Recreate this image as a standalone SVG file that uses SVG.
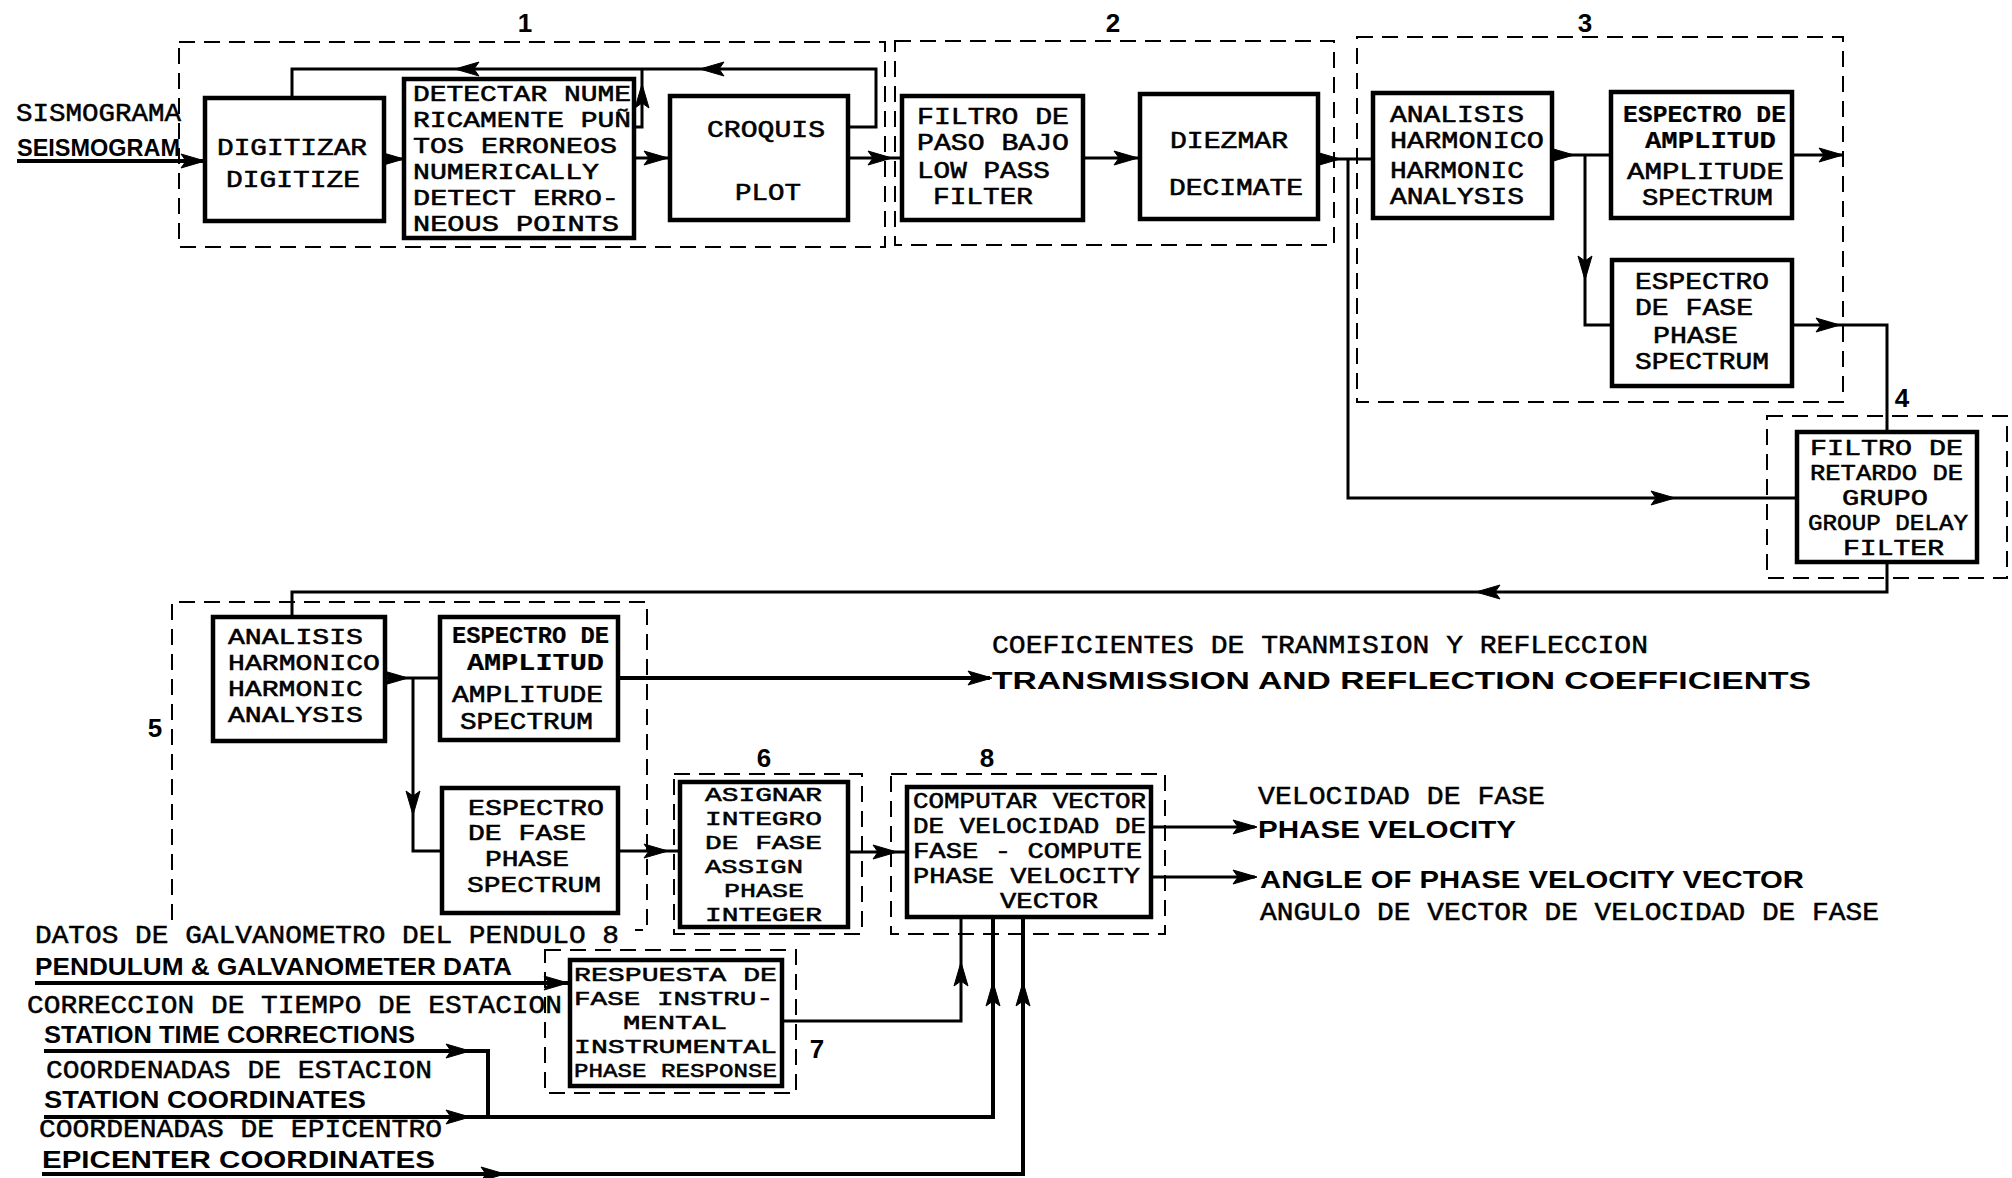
<svg xmlns="http://www.w3.org/2000/svg" xmlns:xlink="http://www.w3.org/1999/xlink" width="2012" height="1178" viewBox="0 0 2012 1178">
<style>
.box{fill:#fff;stroke:#000;stroke-width:4.5}
.grp{fill:none;stroke:#000;stroke-width:2;stroke-dasharray:16 9}
.ln{fill:none;stroke:#000;stroke-width:3}
.hv{fill:none;stroke:#000;stroke-width:4}
.tw{font-family:"Liberation Mono","DejaVu Sans Mono",monospace;font-size:23px;fill:#000;stroke:#000;stroke-width:0.55}
.s21{font-size:21px}
.s22{font-size:22px}
.b{font-weight:bold;stroke-width:0.2}
.two{font-family:"Liberation Mono","DejaVu Sans Mono",monospace;font-size:26px;fill:#000;stroke:#000;stroke-width:0.5}
.bd{font-family:"Liberation Sans",Arial,sans-serif;font-weight:bold;font-size:24px;fill:#000}
.num{font-family:"Liberation Sans",Arial,sans-serif;font-weight:bold;font-size:26px;fill:#000;text-anchor:middle}
</style>
<defs>
<path id="ah" d="M0,0 L-24,-7 L-19,0 L-24,7 Z" fill="#000" stroke="#000" stroke-width="1"/>
</defs>
<rect width="2012" height="1178" fill="#fff"/>

<g id="groups">
<rect class="grp" x="179" y="42" width="706" height="205"/>
<rect class="grp" x="895" y="41" width="439" height="204"/>
<rect class="grp" x="1357" y="37" width="486" height="365"/>
<rect class="grp" x="1767" y="416" width="240" height="162"/>
<path class="grp" d="M172,920 V602 H647 V930 H635"/>
<rect class="grp" x="674" y="774" width="188" height="160"/>
<rect class="grp" x="891" y="774" width="274" height="160"/>
<rect class="grp" x="545" y="950" width="251" height="143"/>
</g>

<g id="numbers">
<text class="num" x="525" y="32">1</text>
<text class="num" x="1113" y="32">2</text>
<text class="num" x="1585" y="32">3</text>
<text class="num" x="1902" y="407">4</text>
<text class="num" x="155" y="737">5</text>
<text class="num" x="764" y="767">6</text>
<text class="num" x="987" y="767">8</text>
<text class="num" x="817" y="1058">7</text>
</g>

<g id="connectors">
<path class="hv" d="M17,161 H205"/>
<use xlink:href="#ah" transform="translate(205,161)"/>
<path class="ln" d="M384,159 H404"/>
<use xlink:href="#ah" transform="translate(404,159)"/>
<path class="ln" d="M634,158 H670"/>
<use xlink:href="#ah" transform="translate(668,158)"/>
<path class="ln" d="M848,158 H902"/>
<use xlink:href="#ah" transform="translate(892,158)"/>
<path class="ln" d="M848,127 H876 V69 H292 V98"/>
<use xlink:href="#ah" transform="translate(700,69) rotate(180)"/>
<use xlink:href="#ah" transform="translate(455,69) rotate(180)"/>
<path class="ln" d="M634,127 H642 V69"/>
<use xlink:href="#ah" transform="translate(642,84) rotate(-90)"/>
<path class="ln" d="M1083,158 H1140"/>
<use xlink:href="#ah" transform="translate(1138,158)"/>
<path class="ln" d="M1318,159 H1373"/>
<use xlink:href="#ah" transform="translate(1340,159)"/>
<path class="ln" d="M1348,159 V498 H1797"/>
<use xlink:href="#ah" transform="translate(1675,498)"/>
<path class="ln" d="M1552,155 H1611"/>
<use xlink:href="#ah" transform="translate(1574,155)"/>
<path class="ln" d="M1585,155 V325 H1612"/>
<use xlink:href="#ah" transform="translate(1585,280) rotate(90)"/>
<path class="ln" d="M1792,155 H1843"/>
<use xlink:href="#ah" transform="translate(1843,155)"/>
<path class="ln" d="M1792,325 H1887 V432"/>
<use xlink:href="#ah" transform="translate(1840,325)"/>
<path class="ln" d="M1887,562 V592 H292 V617"/>
<use xlink:href="#ah" transform="translate(1476,592) rotate(180)"/>
<path class="ln" d="M385,678 H440"/>
<use xlink:href="#ah" transform="translate(408,678)"/>
<path class="ln" d="M413,678 V851 H442"/>
<use xlink:href="#ah" transform="translate(413,815) rotate(90)"/>
<path class="hv" d="M618,678 H990"/>
<use xlink:href="#ah" transform="translate(992,678)"/>
<path class="ln" d="M618,851 H680"/>
<use xlink:href="#ah" transform="translate(668,851)"/>
<path class="ln" d="M848,852 H907"/>
<use xlink:href="#ah" transform="translate(897,852)"/>
<path class="ln" d="M1151,827 H1255"/>
<use xlink:href="#ah" transform="translate(1257,827)"/>
<path class="ln" d="M1151,877 H1255"/>
<use xlink:href="#ah" transform="translate(1257,877)"/>
<path class="hv" d="M35,983 H570"/>
<use xlink:href="#ah" transform="translate(568,983)"/>
<path class="ln" d="M782,1021 H961 V917"/>
<use xlink:href="#ah" transform="translate(961,962) rotate(-90)"/>
<path class="hv" d="M44,1051 H488 V1117"/>
<use xlink:href="#ah" transform="translate(470,1051)"/>
<path class="hv" d="M44,1117 H993 V917"/>
<use xlink:href="#ah" transform="translate(470,1117)"/>
<use xlink:href="#ah" transform="translate(993,982) rotate(-90)"/>
<path class="hv" d="M42,1174 H1023 V917"/>
<use xlink:href="#ah" transform="translate(505,1174)"/>
<use xlink:href="#ah" transform="translate(1023,982) rotate(-90)"/>
</g>

<g id="n-digitizar">
<rect class="box" x="205" y="98" width="179" height="123"/>
<text class="tw" x="217" y="155" textLength="150" lengthAdjust="spacingAndGlyphs">DIGITIZAR</text>
<text class="tw" x="226" y="187" textLength="134" lengthAdjust="spacingAndGlyphs">DIGITIZE</text>
</g>
<g id="n-detectar">
<rect class="box" x="404" y="79" width="230" height="159"/>
<text class="tw s22" x="413" y="101" textLength="218" lengthAdjust="spacingAndGlyphs">DETECTAR NUME</text>
<text class="tw s22" x="413" y="127" textLength="218" lengthAdjust="spacingAndGlyphs">RICAMENTE PUÑ</text>
<text class="tw s22" x="413" y="153" textLength="204" lengthAdjust="spacingAndGlyphs">TOS ERRONEOS</text>
<text class="tw s22" x="413" y="179" textLength="186" lengthAdjust="spacingAndGlyphs">NUMERICALLY</text>
<text class="tw s22" x="413" y="205" textLength="206" lengthAdjust="spacingAndGlyphs">DETECT ERRO-</text>
<text class="tw s22" x="413" y="231" textLength="206" lengthAdjust="spacingAndGlyphs">NEOUS POINTS</text>
</g>
<g id="n-croquis">
<rect class="box" x="670" y="96" width="178" height="124"/>
<text class="tw" x="707" y="137" textLength="118" lengthAdjust="spacingAndGlyphs">CROQUIS</text>
<text class="tw" x="735" y="200" textLength="66" lengthAdjust="spacingAndGlyphs">PLOT</text>
</g>
<g id="n-filtro">
<rect class="box" x="902" y="96" width="181" height="124"/>
<text class="tw" x="917" y="124" textLength="152" lengthAdjust="spacingAndGlyphs">FILTRO DE</text>
<text class="tw" x="917" y="150" textLength="152" lengthAdjust="spacingAndGlyphs">PASO BAJO</text>
<text class="tw" x="917" y="178" textLength="133" lengthAdjust="spacingAndGlyphs">LOW PASS</text>
<text class="tw" x="933" y="204" textLength="100" lengthAdjust="spacingAndGlyphs">FILTER</text>
</g>
<g id="n-diezmar">
<rect class="box" x="1140" y="94" width="178" height="125"/>
<text class="tw" x="1170" y="148" textLength="118" lengthAdjust="spacingAndGlyphs">DIEZMAR</text>
<text class="tw" x="1169" y="195" textLength="134" lengthAdjust="spacingAndGlyphs">DECIMATE</text>
</g>
<g id="n-analisis1">
<rect class="box" x="1373" y="93" width="179" height="125"/>
<text class="tw" x="1390" y="122" textLength="134" lengthAdjust="spacingAndGlyphs">ANALISIS</text>
<text class="tw" x="1390" y="148" textLength="154" lengthAdjust="spacingAndGlyphs">HARMONICO</text>
<text class="tw" x="1390" y="178" textLength="134" lengthAdjust="spacingAndGlyphs">HARMONIC</text>
<text class="tw" x="1390" y="204" textLength="134" lengthAdjust="spacingAndGlyphs">ANALYSIS</text>
</g>
<g id="n-amp1">
<rect class="box" x="1611" y="92" width="181" height="126"/>
<text class="tw b" x="1623" y="122" textLength="163" lengthAdjust="spacingAndGlyphs">ESPECTRO DE</text>
<text class="tw b" x="1645" y="148" textLength="131" lengthAdjust="spacingAndGlyphs">AMPLITUD</text>
<text class="tw" x="1627" y="179" textLength="157" lengthAdjust="spacingAndGlyphs">AMPLITUDE</text>
<text class="tw" x="1642" y="205" textLength="131" lengthAdjust="spacingAndGlyphs">SPECTRUM</text>
</g>
<g id="n-phase1">
<rect class="box" x="1612" y="260" width="180" height="126"/>
<text class="tw" x="1635" y="289" textLength="134" lengthAdjust="spacingAndGlyphs">ESPECTRO</text>
<text class="tw" x="1635" y="315" textLength="118" lengthAdjust="spacingAndGlyphs">DE FASE</text>
<text class="tw" x="1653" y="343" textLength="85" lengthAdjust="spacingAndGlyphs">PHASE</text>
<text class="tw" x="1635" y="369" textLength="134" lengthAdjust="spacingAndGlyphs">SPECTRUM</text>
</g>
<g id="n-retardo">
<rect class="box" x="1797" y="432" width="180" height="130"/>
<text class="tw s22" x="1810" y="455" textLength="153" lengthAdjust="spacingAndGlyphs">FILTRO DE</text>
<text class="tw s22" x="1810" y="480" textLength="153" lengthAdjust="spacingAndGlyphs">RETARDO DE</text>
<text class="tw s22" x="1842" y="505" textLength="86" lengthAdjust="spacingAndGlyphs">GRUPO</text>
<text class="tw s22" x="1808" y="530" textLength="160" lengthAdjust="spacingAndGlyphs">GROUP DELAY</text>
<text class="tw s22" x="1843" y="555" textLength="101" lengthAdjust="spacingAndGlyphs">FILTER</text>
</g>
<g id="n-analisis2">
<rect class="box" x="213" y="617" width="172" height="124"/>
<text class="tw s22" x="228" y="644" textLength="135" lengthAdjust="spacingAndGlyphs">ANALISIS</text>
<text class="tw s22" x="228" y="670" textLength="152" lengthAdjust="spacingAndGlyphs">HARMONICO</text>
<text class="tw s22" x="228" y="696" textLength="135" lengthAdjust="spacingAndGlyphs">HARMONIC</text>
<text class="tw s22" x="228" y="722" textLength="135" lengthAdjust="spacingAndGlyphs">ANALYSIS</text>
</g>
<g id="n-amp2">
<rect class="box" x="440" y="617" width="178" height="123"/>
<text class="tw b" x="452" y="643" textLength="157" lengthAdjust="spacingAndGlyphs">ESPECTRO DE</text>
<text class="tw b" x="467" y="670" textLength="137" lengthAdjust="spacingAndGlyphs">AMPLITUD</text>
<text class="tw" x="452" y="702" textLength="151" lengthAdjust="spacingAndGlyphs">AMPLITUDE</text>
<text class="tw" x="460" y="729" textLength="133" lengthAdjust="spacingAndGlyphs">SPECTRUM</text>
</g>
<g id="n-phase2">
<rect class="box" x="442" y="788" width="176" height="125"/>
<text class="tw s22" x="468" y="815" textLength="136" lengthAdjust="spacingAndGlyphs">ESPECTRO</text>
<text class="tw s22" x="468" y="840" textLength="118" lengthAdjust="spacingAndGlyphs">DE FASE</text>
<text class="tw s22" x="485" y="866" textLength="84" lengthAdjust="spacingAndGlyphs">PHASE</text>
<text class="tw s22" x="467" y="892" textLength="134" lengthAdjust="spacingAndGlyphs">SPECTRUM</text>
</g>
<g id="n-asignar">
<rect class="box" x="680" y="782" width="168" height="145"/>
<text class="tw s21" x="705" y="801" textLength="117" lengthAdjust="spacingAndGlyphs">ASIGNAR</text>
<text class="tw s21" x="705" y="825" textLength="117" lengthAdjust="spacingAndGlyphs">INTEGRO</text>
<text class="tw s21" x="705" y="849" textLength="117" lengthAdjust="spacingAndGlyphs">DE FASE</text>
<text class="tw s21" x="705" y="873" textLength="98" lengthAdjust="spacingAndGlyphs">ASSIGN</text>
<text class="tw s21" x="724" y="897" textLength="80" lengthAdjust="spacingAndGlyphs">PHASE</text>
<text class="tw s21" x="705" y="921" textLength="117" lengthAdjust="spacingAndGlyphs">INTEGER</text>
</g>
<g id="n-computar">
<rect class="box" x="907" y="787" width="244" height="130"/>
<text class="tw s22" x="913" y="808" textLength="233" lengthAdjust="spacingAndGlyphs">COMPUTAR VECTOR</text>
<text class="tw s22" x="913" y="833" textLength="233" lengthAdjust="spacingAndGlyphs">DE VELOCIDAD DE</text>
<text class="tw s22" x="913" y="858" textLength="229" lengthAdjust="spacingAndGlyphs">FASE - COMPUTE</text>
<text class="tw s22" x="913" y="883" textLength="227" lengthAdjust="spacingAndGlyphs">PHASE VELOCITY</text>
<text class="tw s22" x="1000" y="908" textLength="98" lengthAdjust="spacingAndGlyphs">VECTOR</text>
</g>
<g id="n-respuesta">
<rect class="box" x="570" y="960" width="212" height="126"/>
<text class="tw s21" x="574" y="981" textLength="203" lengthAdjust="spacingAndGlyphs">RESPUESTA DE</text>
<text class="tw s21" x="574" y="1005" textLength="199" lengthAdjust="spacingAndGlyphs">FASE INSTRU-</text>
<text class="tw s21" x="623" y="1029" textLength="104" lengthAdjust="spacingAndGlyphs">MENTAL</text>
<text class="tw s21" x="574" y="1053" textLength="203" lengthAdjust="spacingAndGlyphs">INSTRUMENTAL</text>
<text class="tw s21" x="574" y="1077" textLength="203" lengthAdjust="spacingAndGlyphs">PHASE RESPONSE</text>
</g>

<g id="labels">
<text class="two" x="16" y="121" textLength="165" lengthAdjust="spacingAndGlyphs">SISMOGRAMA</text>
<text class="bd" x="17" y="156" font-size="28" textLength="163" lengthAdjust="spacingAndGlyphs">SEISMOGRAM</text>
<text class="two" x="35" y="943" textLength="584" lengthAdjust="spacingAndGlyphs">DATOS DE GALVANOMETRO DEL PENDULO 8</text>
<text class="bd" x="35" y="975" textLength="477" lengthAdjust="spacingAndGlyphs">PENDULUM &amp; GALVANOMETER DATA</text>
<text class="two" x="27" y="1013" textLength="535" lengthAdjust="spacingAndGlyphs">CORRECCION DE TIEMPO DE ESTACION</text>
<text class="bd" x="44" y="1043" textLength="371" lengthAdjust="spacingAndGlyphs">STATION TIME CORRECTIONS</text>
<text class="two" x="46" y="1078" textLength="386" lengthAdjust="spacingAndGlyphs">COORDENADAS DE ESTACION</text>
<text class="bd" x="44" y="1108" textLength="322" lengthAdjust="spacingAndGlyphs">STATION COORDINATES</text>
<text class="two" x="39" y="1137" textLength="403" lengthAdjust="spacingAndGlyphs">COORDENADAS DE EPICENTRO</text>
<text class="bd" x="42" y="1168" font-size="25" textLength="393" lengthAdjust="spacingAndGlyphs">EPICENTER COORDINATES</text>
<text class="two" x="992" y="653" textLength="656" lengthAdjust="spacingAndGlyphs">COEFICIENTES DE TRANMISION Y REFLECCION</text>
<text class="bd" x="992" y="689" font-size="29" textLength="819" lengthAdjust="spacingAndGlyphs">TRANSMISSION AND REFLECTION COEFFICIENTS</text>
<text class="two" x="1258" y="804" textLength="287" lengthAdjust="spacingAndGlyphs">VELOCIDAD DE FASE</text>
<text class="bd" x="1258" y="838" font-size="28" textLength="258" lengthAdjust="spacingAndGlyphs">PHASE VELOCITY</text>
<text class="bd" x="1260" y="888" font-size="30" textLength="544" lengthAdjust="spacingAndGlyphs">ANGLE OF PHASE VELOCITY VECTOR</text>
<text class="two" x="1260" y="920" textLength="619" lengthAdjust="spacingAndGlyphs">ANGULO DE VECTOR DE VELOCIDAD DE FASE</text>
</g>
</svg>
